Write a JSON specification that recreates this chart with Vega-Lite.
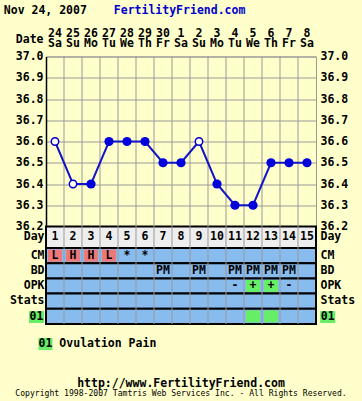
{
  "$schema": "https://vega.github.io/schema/vega-lite/v6.json",
  "width": 270,
  "height": 267.5,
  "autosize": {"type": "none"},
  "padding": {"left": 46, "top": 56.5, "right": 46, "bottom": 77},
  "background": "#FFFFCC",
  "title": {
    "text": "http://www.FertilityFriend.com",
    "subtitle": "Copyright 1998-2007 Tamtris Web Services Inc. - All Rights Reserved.",
    "orient": "bottom", "anchor": "middle", "frame": "group", "offset": 27.5,
    "font": "DejaVu Sans Mono", "fontSize": 11.5, "fontWeight": "bold", "color": "#000000",
    "subtitleFont": "DejaVu Sans Mono", "subtitleFontSize": 8.1, "subtitleFontWeight": "normal",
    "subtitleColor": "#000000", "subtitlePadding": 0.5
  },
  "datasets": {
    "temps": [
      {"date": "24 Sa", "day": 1, "temp": 36.6, "mark": "open"},
      {"date": "25 Su", "day": 2, "temp": 36.4, "mark": "open"},
      {"date": "26 Mo", "day": 3, "temp": 36.4, "mark": "filled"},
      {"date": "27 Tu", "day": 4, "temp": 36.6, "mark": "filled"},
      {"date": "28 We", "day": 5, "temp": 36.6, "mark": "filled"},
      {"date": "29 Th", "day": 6, "temp": 36.6, "mark": "filled"},
      {"date": "30 Fr", "day": 7, "temp": 36.5, "mark": "filled"},
      {"date": "1 Sa", "day": 8, "temp": 36.5, "mark": "filled"},
      {"date": "2 Su", "day": 9, "temp": 36.6, "mark": "open"},
      {"date": "3 Mo", "day": 10, "temp": 36.4, "mark": "filled"},
      {"date": "4 Tu", "day": 11, "temp": 36.3, "mark": "filled"},
      {"date": "5 We", "day": 12, "temp": 36.3, "mark": "filled"},
      {"date": "6 Th", "day": 13, "temp": 36.5, "mark": "filled"},
      {"date": "7 Fr", "day": 14, "temp": 36.5, "mark": "filled"},
      {"date": "8 Sa", "day": 15, "temp": 36.5, "mark": "filled"}
    ],
    "dayrow": [{"row": "Day"}],
    "rows": [{"row": "CM"}, {"row": "BD"}, {"row": "OPK"}, {"row": "Stats"}, {"row": "01"}],
    "cells": [
      {"date": "24 Sa", "row": "CM", "text": "L", "hl": "CM"},
      {"date": "25 Su", "row": "CM", "text": "H", "hl": "CM"},
      {"date": "26 Mo", "row": "CM", "text": "H", "hl": "CM"},
      {"date": "27 Tu", "row": "CM", "text": "L", "hl": "CM"},
      {"date": "28 We", "row": "CM", "text": "*", "hl": null},
      {"date": "29 Th", "row": "CM", "text": "*", "hl": null},
      {"date": "30 Fr", "row": "BD", "text": "PM", "hl": null},
      {"date": "2 Su", "row": "BD", "text": "PM", "hl": null},
      {"date": "4 Tu", "row": "BD", "text": "PM", "hl": null},
      {"date": "5 We", "row": "BD", "text": "PM", "hl": null},
      {"date": "6 Th", "row": "BD", "text": "PM", "hl": null},
      {"date": "7 Fr", "row": "BD", "text": "PM", "hl": null},
      {"date": "4 Tu", "row": "OPK", "text": "-", "hl": null},
      {"date": "5 We", "row": "OPK", "text": "+", "hl": "OPK"},
      {"date": "6 Th", "row": "OPK", "text": "+", "hl": "OPK"},
      {"date": "7 Fr", "row": "OPK", "text": "-", "hl": null},
      {"date": "5 We", "row": "01", "text": "", "hl": "01 Ovulation Pain"},
      {"date": "6 Th", "row": "01", "text": "", "hl": "01 Ovulation Pain"}
    ]
  },
  "layer": [
    {
      "layer": [
        {
          "data": {"name": "dayrow"},
          "mark": {"type": "rect", "fill": "#EEEEEE", "stroke": "#000000", "strokeWidth": 2},
          "encoding": {
            "y": {"field": "row", "type": "nominal",
                  "scale": {"domain": ["Day"], "range": [170, 191.5], "paddingInner": 0, "paddingOuter": 0},
                  "axis": {"orient": "left", "title": null, "domain": false, "labelPadding": 2}}
          }
        },
        {
          "data": {"name": "temps"},
          "mark": {"type": "text", "font": "DejaVu Sans Mono", "fontSize": 11.5, "fontWeight": "bold", "color": "#000000"},
          "encoding": {
            "x": {"field": "date", "type": "ordinal", "sort": null,
                  "scale": {"domain": ["24 Sa","25 Su","26 Mo","27 Tu","28 We","29 Th","30 Fr","1 Sa","2 Su","3 Mo","4 Tu","5 We","6 Th","7 Fr","8 Sa"], "paddingInner": 0, "paddingOuter": 0},
                  "axis": null},
            "y": {"datum": "Day", "type": "nominal",
                  "scale": {"domain": ["Day"], "range": [170, 191.5], "paddingInner": 0, "paddingOuter": 0},
                  "axis": {"orient": "right", "title": null, "domain": false, "labelPadding": 4}},
            "text": {"field": "day"}
          }
        }
      ],
      "resolve": {"axis": {"y": "independent"}}
    },
    {
      "layer": [
        {
          "data": {"name": "rows"},
          "mark": {"type": "rect", "fill": "#88BBEE", "stroke": "#000000", "strokeWidth": 2},
          "encoding": {
            "y": {"field": "row", "type": "nominal", "sort": null,
                  "scale": {"domain": ["CM","BD","OPK","Stats","01"], "range": [191.5, 267.5], "paddingInner": 0, "paddingOuter": 0},
                  "axis": {"orient": "left", "title": null, "domain": false, "labelPadding": 2,
                           "labelExpr": "datum.value == '01' ? '' : datum.value"}}
          }
        },
        {
          "data": {"name": "cells"},
          "transform": [{"filter": "datum.hl != null"}],
          "mark": {"type": "point", "shape": "M-1.17,-1H1.17V1H-1.17Z", "filled": true, "size": 144, "opacity": 1, "strokeWidth": 0},
          "encoding": {
            "x": {"field": "date", "type": "ordinal", "sort": null,
                  "scale": {"domain": ["24 Sa","25 Su","26 Mo","27 Tu","28 We","29 Th","30 Fr","1 Sa","2 Su","3 Mo","4 Tu","5 We","6 Th","7 Fr","8 Sa"], "paddingInner": 0, "paddingOuter": 0},
                  "axis": null},
            "y": {"field": "row", "type": "nominal", "sort": null,
                  "scale": {"domain": ["CM","BD","OPK","Stats","01"], "range": [191.5, 267.5], "paddingInner": 0, "paddingOuter": 0},
                  "axis": null},
            "color": {"field": "hl", "type": "nominal",
                      "scale": {"domain": ["CM", "OPK", "01 Ovulation Pain"], "range": ["#EE7777", "#66EE66", "#66EE66"]},
                      "legend": {"values": ["01 Ovulation Pain"], "orient": "none", "legendX": -6.5, "legendY": 281.5,
                                 "title": null, "padding": 0, "labelOffset": -12.9,
                                 "labelFont": "DejaVu Sans Mono", "labelFontSize": 11.5, "labelFontWeight": "bold", "labelColor": "#000000",
                                 "symbolStrokeWidth": 0, "symbolOpacity": 1, "symbolSize": 144, "symbolType": "M-1.17,-1H1.17V1H-1.17Z"}}
          }
        },
        {
          "data": {"name": "cells"},
          "transform": [{"filter": "datum.row == '01'"}],
          "mark": {"type": "point", "shape": "M-1.25,-1H1.25V1H-1.25Z", "filled": true, "color": "#66EE66", "opacity": 0, "strokeWidth": 0},
          "encoding": {
            "x": {"field": "date", "type": "ordinal", "sort": null,
                  "scale": {"domain": ["24 Sa","25 Su","26 Mo","27 Tu","28 We","29 Th","30 Fr","1 Sa","2 Su","3 Mo","4 Tu","5 We","6 Th","7 Fr","8 Sa"], "paddingInner": 0, "paddingOuter": 0},
                  "axis": null},
            "y": {"field": "row", "type": "nominal", "sort": null,
                  "scale": {"domain": ["CM","BD","OPK","Stats","01"], "range": [191.5, 267.5], "paddingInner": 0, "paddingOuter": 0},
                  "axis": null},
            "size": {"field": "row", "type": "ordinal", "scale": {"domain": ["01"], "range": [144, 144]},
                     "legend": {"values": ["01"], "orient": "none", "legendX": -15.5, "legendY": 254.5,
                                "title": null, "padding": 0, "labelOffset": -12.9,
                                "labelFont": "DejaVu Sans Mono", "labelFontSize": 11.5, "labelFontWeight": "bold", "labelColor": "#000000",
                                "symbolStrokeWidth": 0, "symbolOpacity": 1, "symbolFillColor": "#66EE66",
                                "symbolType": "M-1.25,-1H1.25V1H-1.25Z"}},
            "strokeWidth": {"field": "date", "type": "ordinal", "scale": {"domain": ["5 We", "6 Th"], "range": [0, 0]},
                     "legend": {"values": ["5 We"], "labelExpr": "'01'", "orient": "none", "legendX": 275.7, "legendY": 254.5,
                                "title": null, "padding": 0, "labelOffset": -12.9,
                                "labelFont": "DejaVu Sans Mono", "labelFontSize": 11.5, "labelFontWeight": "bold", "labelColor": "#000000",
                                "symbolOpacity": 1, "symbolFillColor": "#66EE66", "symbolSize": 144,
                                "symbolType": "M-1.25,-1H1.25V1H-1.25Z"}}
          }
        },
        {
          "data": {"name": "cells"},
          "mark": {"type": "text", "font": "DejaVu Sans Mono", "fontSize": 11.5, "fontWeight": "bold", "color": "#000000"},
          "encoding": {
            "x": {"field": "date", "type": "ordinal", "sort": null,
                  "scale": {"domain": ["24 Sa","25 Su","26 Mo","27 Tu","28 We","29 Th","30 Fr","1 Sa","2 Su","3 Mo","4 Tu","5 We","6 Th","7 Fr","8 Sa"], "paddingInner": 0, "paddingOuter": 0},
                  "axis": null},
            "y": {"field": "row", "type": "nominal", "sort": null,
                  "scale": {"domain": ["CM","BD","OPK","Stats","01"], "range": [191.5, 267.5], "paddingInner": 0, "paddingOuter": 0},
                  "axis": {"orient": "right", "title": null, "domain": false, "labelPadding": 4,
                           "labelExpr": "datum.value == '01' ? '' : datum.value"}},
            "text": {"field": "text"}
          }
        }
      ],
      "resolve": {"axis": {"y": "independent"}}
    },
    {
      "data": {"name": "temps"},
      "transform": [{"filter": "datum.day > 1"}],
      "mark": {"type": "rule", "color": "#999999", "strokeWidth": 1},
      "encoding": {
        "x": {"field": "date", "type": "ordinal", "sort": null, "bandPosition": 0,
              "scale": {"domain": ["24 Sa","25 Su","26 Mo","27 Tu","28 We","29 Th","30 Fr","1 Sa","2 Su","3 Mo","4 Tu","5 We","6 Th","7 Fr","8 Sa"], "paddingInner": 0, "paddingOuter": 0},
              "axis": null}
      }
    },
    {
      "data": {"name": "temps"},
      "encoding": {
        "x": {"field": "date", "type": "ordinal", "sort": null,
              "scale": {"domain": ["24 Sa","25 Su","26 Mo","27 Tu","28 We","29 Th","30 Fr","1 Sa","2 Su","3 Mo","4 Tu","5 We","6 Th","7 Fr","8 Sa"], "paddingInner": 0, "paddingOuter": 0},
              "axis": {"orient": "top", "labelExpr": "split(datum.value, ' ')", "labelLineHeight": 10, "labelPadding": 18,
                       "labelOverlap": false, "labelAngle": 0, "domain": false, "grid": false,
                       "title": "Nov 24, 2007", "titleX": -42.7, "titleY": -43.2, "titleAlign": "left", "titleAnchor": "start",
                       "titleBaseline": "alphabetic", "titleAngle": 0}}
      },
      "layer": [
        {
          "mark": {"type": "line", "color": "#1414C8", "strokeWidth": 2},
          "encoding": {
            "y": {"field": "temp", "type": "quantitative",
                  "scale": {"domain": [36.2, 37.0], "range": [170, 0], "zero": false, "nice": false},
                  "axis": {"orient": "left", "values": [36.2, 36.3, 36.4, 36.5, 36.6, 36.7, 36.8, 36.9, 37.0], "format": ".1f",
                           "grid": true, "domain": true, "domainColor": "#000000", "domainWidth": 1.5, "labelPadding": 3,
                           "title": "Date", "titleAngle": 0, "titleAlign": "right", "titleBaseline": "middle", "titleX": -3, "titleY": -17}},
            "order": {"field": "day", "type": "quantitative"}
          }
        },
        {
          "transform": [{"filter": "datum.mark == 'filled'"}],
          "mark": {"type": "point", "filled": true, "size": 85, "color": "#0000DD", "opacity": 1},
          "encoding": {
            "y": {"field": "temp", "type": "quantitative",
                  "scale": {"domain": [36.2, 37.0], "range": [170, 0], "zero": false, "nice": false},
                  "axis": {"orient": "right", "values": [36.2, 36.3, 36.4, 36.5, 36.6, 36.7, 36.8, 36.9, 37.0], "format": ".1f",
                           "grid": false, "domain": false, "labelPadding": 4,
                           "title": "FertilityFriend.com", "titleColor": "#0000CC", "titleAngle": 0, "titleAlign": "left",
                           "titleBaseline": "alphabetic", "titleX": -202.7, "titleY": -43.2}}
          }
        },
        {
          "transform": [{"filter": "datum.mark == 'open'"}],
          "mark": {"type": "point", "filled": true, "fill": "#FFFFFF", "stroke": "#0000CC", "strokeWidth": 1.5, "size": 55, "opacity": 1},
          "encoding": {
            "y": {"field": "temp", "type": "quantitative",
                  "scale": {"domain": [36.2, 37.0], "range": [170, 0], "zero": false, "nice": false},
                  "axis": null}
          }
        }
      ],
      "resolve": {"axis": {"y": "independent"}}
    }
  ],
  "resolve": {"scale": {"y": "independent"}, "axis": {"y": "independent", "x": "independent"}},
  "config": {
    "view": {"stroke": "#999999"},
    "axis": {"labelFont": "DejaVu Sans Mono", "labelFontSize": 11.5, "labelFontWeight": "bold", "labelColor": "#000000",
             "ticks": false, "tickSize": 0, "titleFont": "DejaVu Sans Mono", "titleFontSize": 11.5, "titleFontWeight": "bold",
             "titleColor": "#000000", "domainColor": "#000000", "gridColor": "#999999", "gridOpacity": 1, "gridWidth": 1},
    "text": {"font": "DejaVu Sans Mono"}
  }
}
